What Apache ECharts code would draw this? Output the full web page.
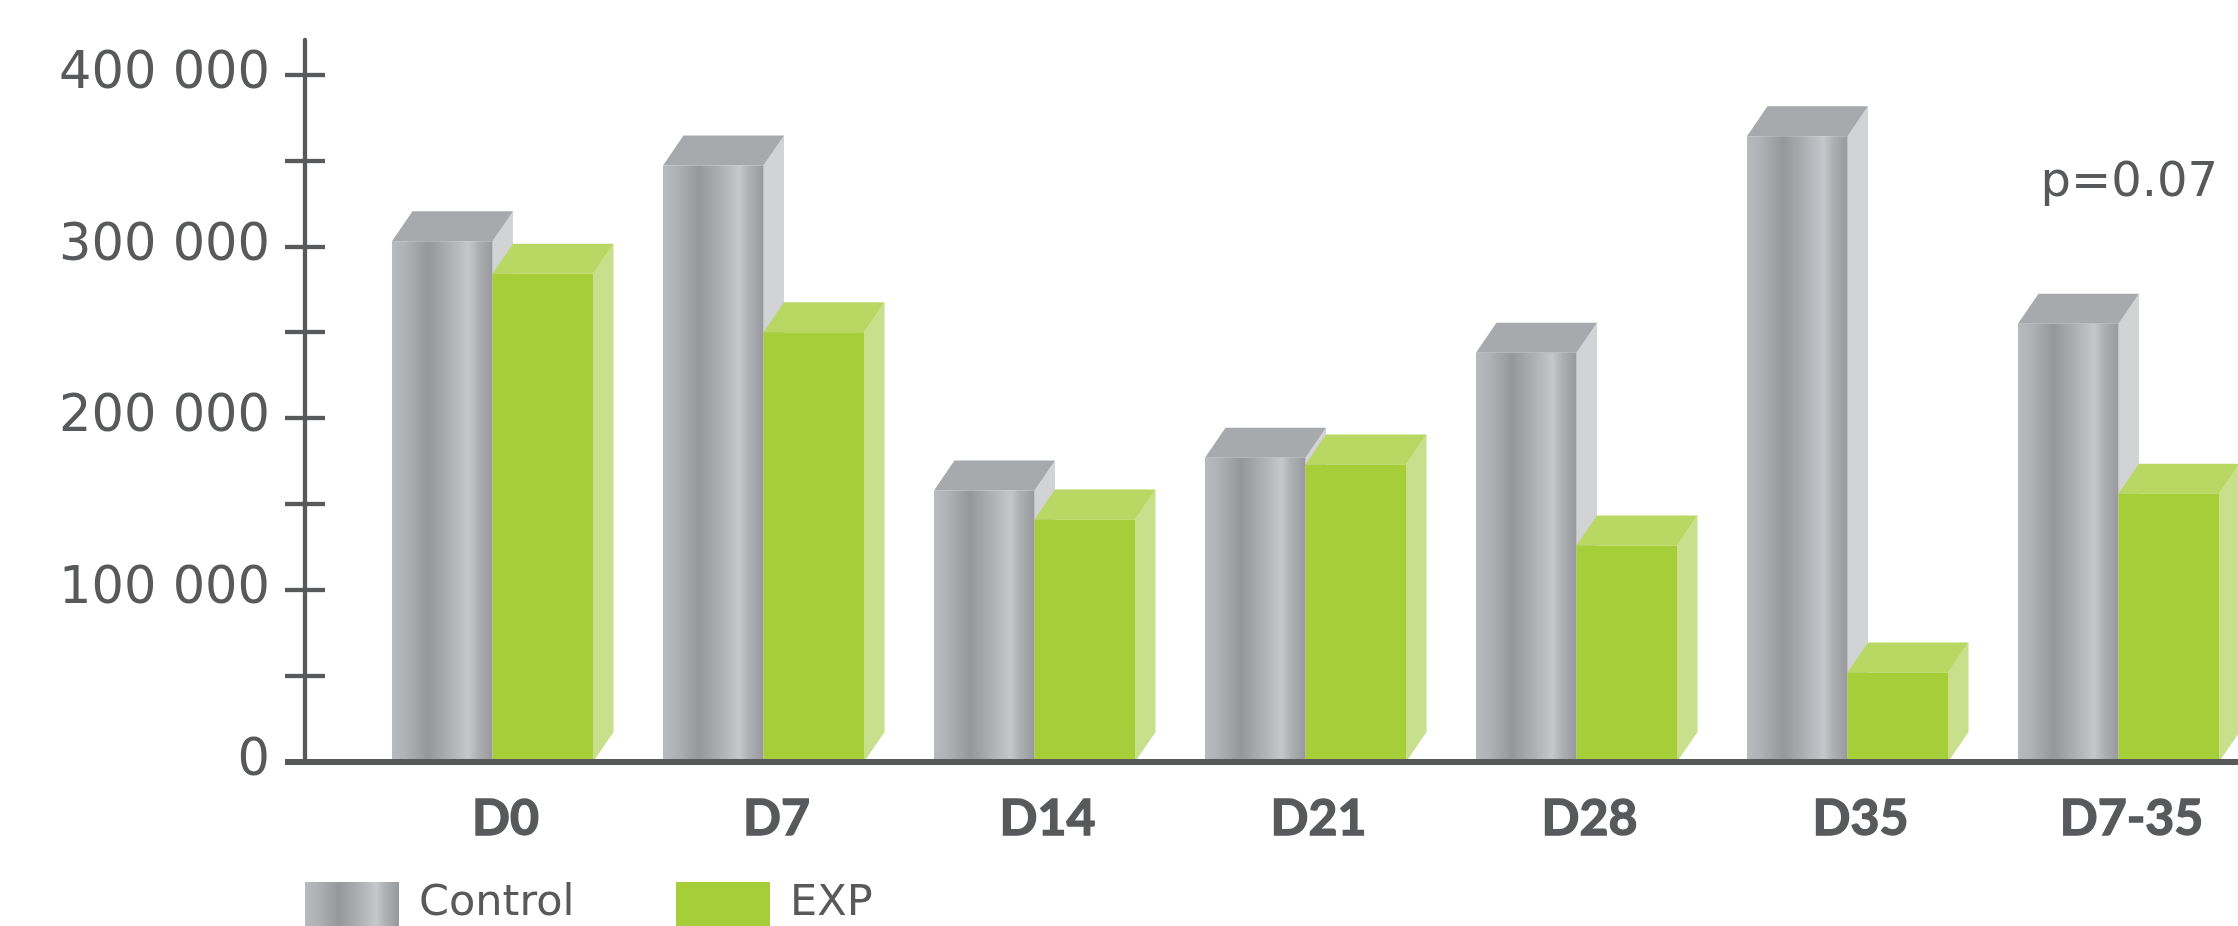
<!DOCTYPE html>
<html>
<head>
<meta charset="utf-8">
<script src="https://cdn.jsdelivr.net/npm/echarts@6/dist/echarts.min.js"></script>
<style>
  html, body { margin: 0; padding: 0; background: #ffffff; }
  #chart { width: 2238px; height: 926px; }
</style>
</head>
<body>
<div id="chart"></div>
<script>
// Categories (sampling days) and values per group
const categories = ['D0', 'D7', 'D14', 'D21', 'D28', 'D35', 'D7-35'];
const controlValues = [303000, 347000, 158000, 177000, 238000, 364000, 255000];
const expValues = [284000, 250000, 141000, 173000, 126000, 52000, 156000];
const yTicks = [0, 50000, 100000, 150000, 200000, 250000, 300000, 350000, 400000];
const yLabels = [0, 100000, 200000, 300000, 400000];
const seriesNames = ['Control', 'EXP'];
const annotation = 'p=0.07';

const TEXT = '#58595b';
const LIGHT_FONT = '"DejaVu Sans", sans-serif';
const BOLD_FONT = 'Lato, sans-serif';

// Metallic gradient for the control front faces
function metalGradient() {
  return new echarts.graphic.LinearGradient(0, 0, 1, 0, [
    { offset: 0.00, color: '#b9babe' },
    { offset: 0.12, color: '#b2b3b7' },
    { offset: 0.36, color: '#95979a' },
    { offset: 0.56, color: '#adaeb2' },
    { offset: 0.76, color: '#c4c8cb' },
    { offset: 0.86, color: '#adb0b3' },
    { offset: 1.00, color: '#97999c' }
  ]);
}

const palette = {
  control: { front: null, top: '#a7a9ac', side: '#d1d3d4' },
  exp: { front: '#a6ce39', top: '#b8d763', side: '#c8df8b' }
};

// 3D box: front face + top face + right side face
const DEPTH_X = 20.5;
const DEPTH_Y = 30;
const BAR_FRACTION = 0.371;

function boxRenderer(isControl) {
  const colors = isControl ? palette.control : palette.exp;
  return function (params, api) {
    const idx = api.value(0);
    const val = api.value(1);
    const base = api.coord([idx, 0]);
    const top = api.coord([idx, val]);
    const band = api.size([1, 0])[0];
    const w = band * BAR_FRACTION;
    const x0 = isControl ? base[0] - w : base[0];
    const x1 = x0 + w;
    const yb = base[1];
    const yt = top[1];
    return {
      type: 'group',
      children: [
        {
          type: 'polygon',
          shape: { points: [[x1, yt], [x1 + DEPTH_X, yt - DEPTH_Y], [x1 + DEPTH_X, yb - DEPTH_Y], [x1, yb]] },
          style: { fill: colors.side }
        },
        {
          type: 'polygon',
          shape: { points: [[x0, yt], [x1, yt], [x1 + DEPTH_X, yt - DEPTH_Y], [x0 + DEPTH_X, yt - DEPTH_Y]] },
          style: { fill: colors.top }
        },
        {
          type: 'rect',
          shape: { x: x0, y: yt, width: w, height: yb - yt },
          style: { fill: isControl ? metalGradient() : colors.front }
        }
      ]
    };
  };
}

const chart = echarts.init(document.getElementById('chart'), null, { renderer: 'canvas' });

function fmt(v) {
  return String(v).replace(/\B(?=(\d{3})+(?!\d))/g, ' ');
}

const GRID = { left: 357, width: 1897, top: 40, height: 722 };
const BASE_W = 6;

const yCommon = {
  type: 'value',
  min: 0,
  max: 420000,
  position: 'left',
  offset: 52,
  splitLine: { show: false }
};

const tickStyle = { color: TEXT, width: 4.3 };
const legendText = { color: TEXT, fontFamily: LIGHT_FONT, fontSize: 43, padding: [0, 0, 0, 15] };

const option = {
  backgroundColor: '#ffffff',
  animation: false,
  grid: Object.assign({ outerBoundsMode: 'none', containLabel: false }, GRID),
  xAxis: {
    type: 'category',
    data: categories,
    axisLine: { show: true, lineStyle: { color: TEXT, width: BASE_W } },
    axisTick: { show: false },
    axisLabel: {
      color: TEXT,
      fontFamily: BOLD_FONT,
      fontWeight: 'bold',
      fontSize: 50,
      margin: 32,
      padding: [0, 0, 0, 26],
      textBorderColor: TEXT,
      textBorderWidth: 1.4
    },
    z: 5
  },
  yAxis: [
    Object.assign({}, yCommon, {
      axisLine: { show: true, lineStyle: { color: TEXT, width: 4.3 } },
      axisTick: { show: true, inside: false, length: 20, customValues: yTicks, lineStyle: tickStyle },
      axisLabel: {
        customValues: yLabels,
        formatter: fmt,
        color: TEXT,
        fontFamily: LIGHT_FONT,
        fontSize: 51,
        margin: 35
      }
    }),
    Object.assign({}, yCommon, {
      axisLine: { show: false },
      axisTick: { show: true, inside: true, length: 20, customValues: yTicks, lineStyle: tickStyle },
      axisLabel: { show: false }
    })
  ],
  legend: [
    {
      data: [seriesNames[0]],
      left: 305, top: 882, padding: 0,
      itemWidth: 94, itemHeight: 44,
      icon: 'rect',
      textStyle: legendText
    },
    {
      data: [seriesNames[1]],
      left: 676, top: 882, padding: 0,
      itemWidth: 94, itemHeight: 44,
      icon: 'rect',
      textStyle: legendText
    }
  ],
  graphic: [
    // baseline continues left to meet the outer end of the y-axis ticks
    {
      type: 'rect',
      shape: { x: GRID.left - 72, y: GRID.top + GRID.height - BASE_W / 2, width: 80, height: BASE_W },
      style: { fill: TEXT },
      z: 10
    },
    // significance note above the last group
    {
      type: 'text',
      style: {
        x: 2218, y: 184,
        text: annotation,
        align: 'right',
        verticalAlign: 'middle',
        fill: TEXT,
        font: '48px ' + LIGHT_FONT
      },
      z: 10
    }
  ],
  series: [
    {
      name: seriesNames[0],
      type: 'custom',
      renderItem: boxRenderer(true),
      itemStyle: { color: metalGradient() },
      encode: { x: 0, y: 1 },
      data: categories.map((c, i) => [i, controlValues[i]]),
      clip: false,
      z: 2
    },
    {
      name: seriesNames[1],
      type: 'custom',
      renderItem: boxRenderer(false),
      itemStyle: { color: palette.exp.front },
      encode: { x: 0, y: 1 },
      data: categories.map((c, i) => [i, expValues[i]]),
      clip: false,
      z: 3
    }
  ]
};

chart.setOption(option);
</script>
</body>
</html>
